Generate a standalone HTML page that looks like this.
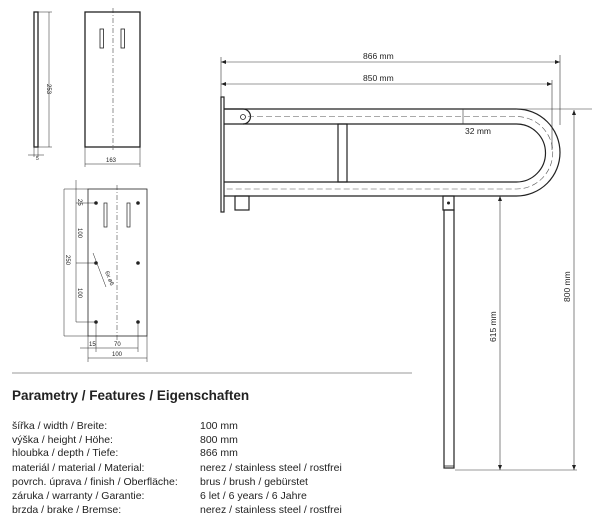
<!DOCTYPE html>
<html><head><meta charset="utf-8"><style>
body{margin:0;background:#fff;width:612px;height:519px;overflow:hidden}
svg{display:block}
text{font-family:"Liberation Sans",sans-serif;fill:#222}
</style></head><body>
<svg width="612" height="519" viewBox="0 0 612 519" xmlns="http://www.w3.org/2000/svg">
<g stroke="#222" fill="none" stroke-width="1">
<!-- side plate -->
<rect x="34" y="12" width="4" height="135" stroke-width="1.3"/>
<line x1="38" y1="12" x2="52" y2="12" stroke-width="0.5"/>
<line x1="38" y1="147" x2="52" y2="147" stroke-width="0.5"/>
<line x1="49" y1="12" x2="49" y2="147" stroke-width="0.5"/>
<line x1="34" y1="147" x2="34" y2="157" stroke-width="0.5"/>
<line x1="38" y1="147" x2="38" y2="157" stroke-width="0.5"/>
<line x1="28" y1="155" x2="44" y2="155" stroke-width="0.5"/>
<!-- front plate -->
<rect x="85" y="12" width="55" height="135" stroke-width="1.3"/>
<line x1="113" y1="8" x2="113" y2="150" stroke-width="0.5" stroke-dasharray="5,2,1,2"/>
<rect x="100" y="29" width="3.5" height="19" stroke-width="0.8"/>
<rect x="121" y="29" width="3.5" height="19" stroke-width="0.8"/>
<line x1="85" y1="147" x2="85" y2="167" stroke-width="0.5"/>
<line x1="140" y1="147" x2="140" y2="167" stroke-width="0.5"/>
<line x1="85" y1="164" x2="140" y2="164" stroke-width="0.5"/>
<!-- mounting plate -->
<rect x="88" y="189" width="59" height="147" stroke-width="0.8"/>
<line x1="117" y1="185" x2="117" y2="340" stroke-width="0.5" stroke-dasharray="5,2,1,2"/>
<rect x="104" y="203" width="3" height="24" stroke-width="0.7"/>
<rect x="127" y="203" width="3" height="24" stroke-width="0.7"/>
<line x1="64" y1="189" x2="88" y2="189" stroke-width="0.5"/>
<line x1="64" y1="336" x2="88" y2="336" stroke-width="0.5"/>
<line x1="64" y1="189" x2="64" y2="336" stroke-width="0.5"/>
<line x1="76" y1="180" x2="76" y2="322" stroke-width="0.5"/>
<line x1="76" y1="203" x2="96" y2="203" stroke-width="0.5"/>
<line x1="76" y1="263" x2="96" y2="263" stroke-width="0.5"/>
<line x1="76" y1="322" x2="96" y2="322" stroke-width="0.5"/>
<line x1="96" y1="322" x2="96" y2="352" stroke-width="0.5"/>
<line x1="138" y1="322" x2="138" y2="352" stroke-width="0.5"/>
<line x1="80" y1="348" x2="138" y2="348" stroke-width="0.5"/>
<line x1="88" y1="336" x2="88" y2="362" stroke-width="0.5"/>
<line x1="147" y1="336" x2="147" y2="362" stroke-width="0.5"/>
<line x1="88" y1="358" x2="147" y2="358" stroke-width="0.5"/>
<line x1="93" y1="253" x2="106" y2="287" stroke-width="0.5"/>
</g>
<g fill="#222">
<circle cx="96" cy="203" r="1.8"/><circle cx="138" cy="203" r="1.8"/>
<circle cx="96" cy="263" r="1.8"/><circle cx="138" cy="263" r="1.8"/>
<circle cx="96" cy="322" r="1.8"/><circle cx="138" cy="322" r="1.8"/>
</g>
<g font-size="6">
<text transform="translate(47,84) rotate(90)">253</text>
<text x="36" y="160" font-size="5">5</text>
<text x="106" y="162">163</text>
<text transform="translate(78,199) rotate(90)">25</text>
<text transform="translate(78,228) rotate(90)">100</text>
<text transform="translate(66,255) rotate(90)">250</text>
<text transform="translate(78,288) rotate(90)">100</text>
<text transform="translate(105,272) rotate(68)">6x ø6</text>
<text x="89" y="346">15</text>
<text x="114" y="346">70</text>
<text x="112" y="356">100</text>
</g>
<!-- main grab bar -->
<g stroke="#222" fill="none" stroke-width="1.2">
<rect x="221" y="97" width="3" height="115"/>
<path d="M 224 109 L 516.5 109 A 43.5 43.5 0 0 1 516.5 196 L 224 196"/>
<path d="M 243 124 L 516.5 124 A 29 29 0 0 1 516.5 182 L 224 182"/>
<path d="M 224 109 L 243 109 A 7.5 7.5 0 0 1 243 124 L 224 124"/>
<rect x="338" y="124" width="9" height="58"/>
<rect x="235" y="196" width="14" height="14"/>
<rect x="443" y="196" width="11" height="14"/>
<rect x="444" y="210" width="10" height="258"/>
<line x1="444" y1="466" x2="454" y2="466" stroke-width="0.8"/>
</g>
<g stroke="#555" fill="none" stroke-width="0.6" stroke-dasharray="6,3">
<path d="M 248 116.5 L 516.5 116.5 A 36 36 0 0 1 516.5 189 L 226 189"/>
</g>
<circle cx="243" cy="117" r="2.5" stroke="#222" fill="none" stroke-width="0.8"/>
<circle cx="448.5" cy="203" r="1.5" fill="#222"/>
<g stroke="#333" fill="none" stroke-width="0.6">
<line x1="221" y1="57" x2="221" y2="97"/>
<line x1="560" y1="55" x2="560" y2="125"/>
<line x1="221" y1="62" x2="560" y2="62"/>
<line x1="552" y1="80" x2="552" y2="150"/>
<line x1="221" y1="84" x2="552" y2="84"/>
<line x1="463" y1="109" x2="463" y2="124"/>
<line x1="516" y1="109" x2="592" y2="109"/>
<line x1="574" y1="110" x2="574" y2="470"/>
<line x1="500" y1="196" x2="500" y2="470"/>
<line x1="455" y1="470" x2="577" y2="470"/>
</g>
<g fill="#222">
<path d="M221 62 l5 -2 v4z"/><path d="M560 62 l-5 -2 v4z"/>
<path d="M221 84 l5 -2 v4z"/><path d="M552 84 l-5 -2 v4z"/>
<path d="M500 196 l-2 5 h4z"/><path d="M574 110 l-2 5 h4z"/>
<path d="M500 470 l-2 -5 h4z"/><path d="M574 470 l-2 -5 h4z"/>
</g>
<g font-size="8.5">
<text x="363" y="59">866 mm</text>
<text x="363" y="81">850 mm</text>
<text x="465" y="134">32 mm</text>
<text transform="translate(496,342) rotate(-90)">615 mm</text>
<text transform="translate(570,302) rotate(-90)">800 mm</text>
</g>
<line x1="12" y1="373" x2="412" y2="373" stroke="#999" stroke-width="1"/>
<text x="12" y="400" font-size="13.5" font-weight="bold">Parametry / Features / Eigenschaften</text>
<g font-size="10.5">
<text x="12" y="429">šířka / width / Breite:</text><text x="200" y="429">100 mm</text>
<text x="12" y="443">výška / height / Höhe:</text><text x="200" y="443">800 mm</text>
<text x="12" y="456">hloubka / depth / Tiefe:</text><text x="200" y="456">866 mm</text>
<text x="12" y="471">materiál / material / Material:</text><text x="200" y="471">nerez / stainless steel / rostfrei</text>
<text x="12" y="485">povrch. úprava / finish / Oberfläche:</text><text x="200" y="485">brus / brush / gebürstet</text>
<text x="12" y="499">záruka / warranty / Garantie:</text><text x="200" y="499">6 let / 6 years / 6 Jahre</text>
<text x="12" y="513">brzda / brake / Bremse:</text><text x="200" y="513">nerez / stainless steel / rostfrei</text>
</g>
</svg>
</body></html>
